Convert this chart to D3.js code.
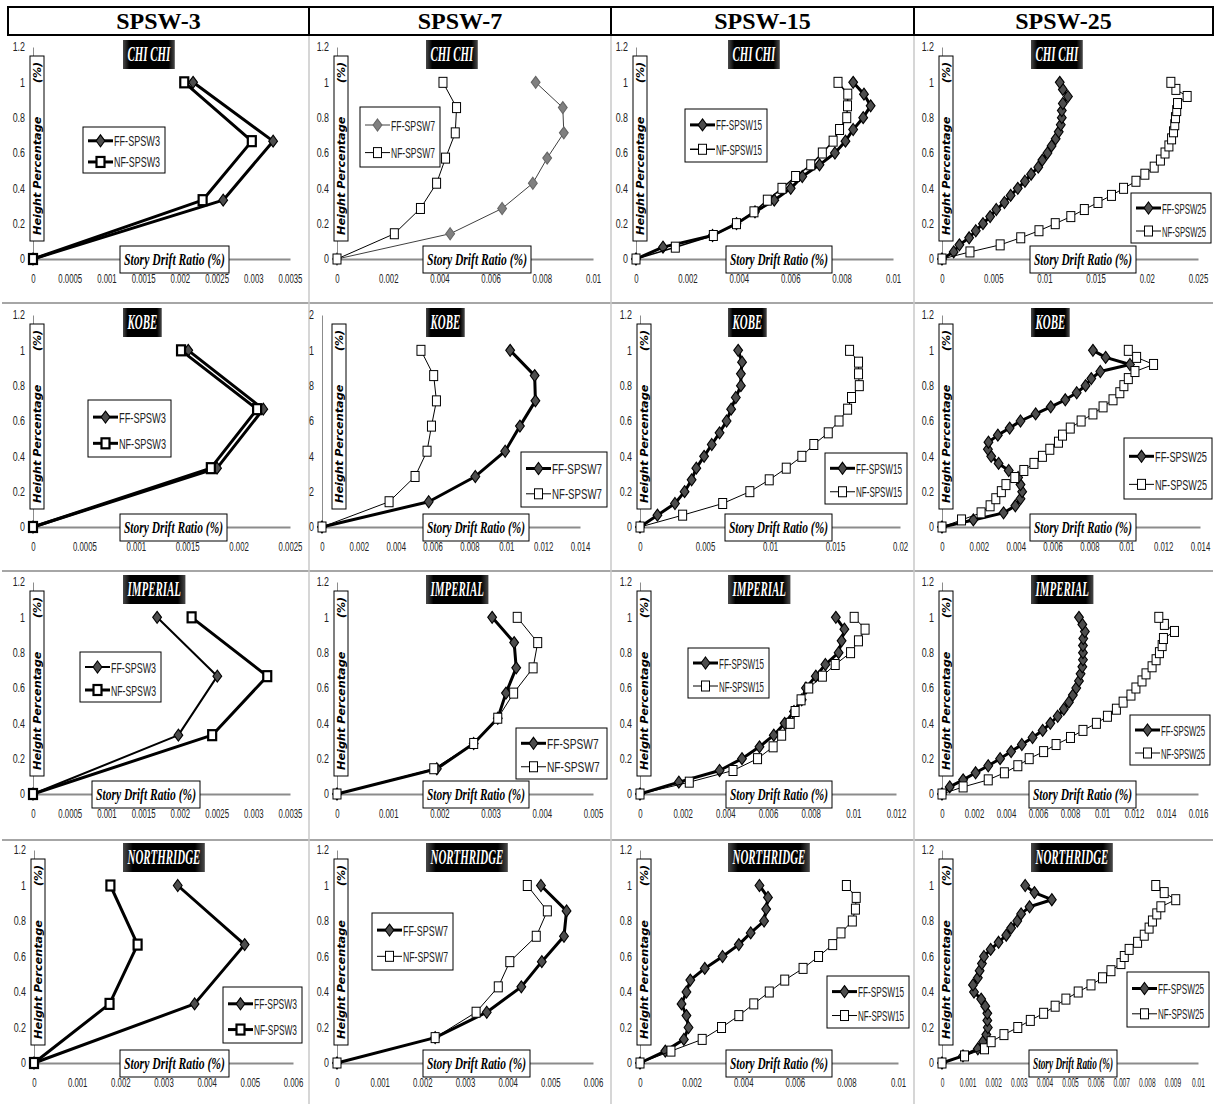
<!DOCTYPE html>
<html>
<head>
<meta charset="utf-8">
<script src="https://cdn.jsdelivr.net/npm/d3@7"></script>
<style>
  body { margin: 0; background: #fff; }
  svg { display: block; }
</style>
</head>
<body>
<div id="chart"></div>
<script>
// --- data -------------------------------------------------------------
const COLUMNS = ['SPSW-3', 'SPSW-7', 'SPSW-15', 'SPSW-25'];
const RECORDS = ['CHI CHI', 'KOBE', 'IMPERIAL', 'NORTHRIDGE'];
const STORIES = ['3', '7', '15', '25'];

const yTicks = [0, 0.2, 0.4, 0.6, 0.8, 1, 1.2];
const yLabels = ['0', '0.2', '0.4', '0.6', '0.8', '1', '1.2'];
const yLabelsCut = ['0', '2', '4', '6', '8', '1', '2'];

// height percentage of each floor level
const h3 = [0, 0.333, 0.667, 1];
const h7 = [0, 0.143, 0.286, 0.429, 0.571, 0.714, 0.857, 1];
const h15 = [0, 0.067, 0.133, 0.2, 0.267, 0.333, 0.4, 0.467, 0.533, 0.6, 0.667, 0.733, 0.8, 0.867, 0.933, 1];
const h25 = [0, 0.04, 0.08, 0.12, 0.16, 0.2, 0.24, 0.28, 0.32, 0.36, 0.4, 0.44, 0.48, 0.52, 0.56, 0.6, 0.64, 0.68, 0.72, 0.76, 0.8, 0.84, 0.88, 0.92, 0.96, 1];

// x tick values
const ticks0035 = [0, 0.0005, 0.001, 0.0015, 0.002, 0.0025, 0.003, 0.0035];
const ticks0025 = [0, 0.0005, 0.001, 0.0015, 0.002, 0.0025];
const ticks010 = [0, 0.002, 0.004, 0.006, 0.008, 0.01];
const ticks012 = [0, 0.002, 0.004, 0.006, 0.008, 0.01, 0.012];
const ticks014 = [0, 0.002, 0.004, 0.006, 0.008, 0.01, 0.012, 0.014];
const ticks016 = [0, 0.002, 0.004, 0.006, 0.008, 0.01, 0.012, 0.014, 0.016];
const ticks020 = [0, 0.005, 0.01, 0.015, 0.02];
const ticks025 = [0, 0.005, 0.01, 0.015, 0.02, 0.025];
const ticks005 = [0, 0.001, 0.002, 0.003, 0.004, 0.005];
const ticks006 = [0, 0.001, 0.002, 0.003, 0.004, 0.005, 0.006];
const ticks010b = [0, 0.001, 0.002, 0.003, 0.004, 0.005, 0.006, 0.007, 0.008, 0.009, 0.01];

// story drift ratios (%), bottom to top
const chichi3FF = [0, 0.00259, 0.00327, 0.00218];
const chichi3NF = [0, 0.00231, 0.00298, 0.00206];
const chichi7FF = [0, 0.00442, 0.00645, 0.00765, 0.00821, 0.00886, 0.00882, 0.00776];
const chichi7NF = [0, 0.00224, 0.00326, 0.00389, 0.00424, 0.00462, 0.00467, 0.00414];
const chichi15FF = [0, 0.00105, 0.00298, 0.00391, 0.00463, 0.00538, 0.00602, 0.00647, 0.00714, 0.00774, 0.00815, 0.00845, 0.00884, 0.00913, 0.00887, 0.00845];
const chichi15NF = [0, 0.00153, 0.00301, 0.00391, 0.00459, 0.00511, 0.00568, 0.00621, 0.0068, 0.00725, 0.00767, 0.00792, 0.0082, 0.00823, 0.00824, 0.00786];
const chichi25FF = [0, 0.00114, 0.0017, 0.00265, 0.0033, 0.004, 0.0047, 0.0053, 0.0061, 0.0067, 0.0074, 0.0081, 0.0087, 0.0094, 0.0098, 0.0103, 0.0107, 0.0111, 0.0114, 0.0116, 0.0117, 0.0117, 0.0118, 0.0123, 0.0118, 0.0115];
const chichi25NF = [0, 0.00273, 0.00568, 0.00769, 0.00947, 0.01106, 0.01258, 0.0139, 0.01523, 0.01655, 0.01773, 0.01894, 0.01981, 0.02072, 0.02133, 0.02178, 0.02216, 0.02242, 0.02261, 0.02273, 0.0228, 0.02292, 0.023, 0.02394, 0.02284, 0.02235];

const kobe3FF = [0, 0.00179, 0.00224, 0.00151];
const kobe3NF = [0, 0.00173, 0.00218, 0.00144];
const kobe7FF = [0, 0.00579, 0.00832, 0.00994, 0.01074, 0.01158, 0.01154, 0.01021];
const kobe7NF = [0, 0.00364, 0.00505, 0.0057, 0.00594, 0.00621, 0.00606, 0.00537];
const kobe15FF = [0, 0.00134, 0.00269, 0.00343, 0.00397, 0.00433, 0.00493, 0.00552, 0.00612, 0.00666, 0.00701, 0.00737, 0.00776, 0.00776, 0.00785, 0.00755];
const kobe15NF = [0, 0.00328, 0.00636, 0.00845, 0.00994, 0.01125, 0.01245, 0.01337, 0.01448, 0.01531, 0.01597, 0.01627, 0.01687, 0.01681, 0.01681, 0.01612];
const kobe25FF = [0, 0.0017, 0.00334, 0.00398, 0.00426, 0.00435, 0.00426, 0.00413, 0.00362, 0.00307, 0.00267, 0.00249, 0.00252, 0.00303, 0.00367, 0.00426, 0.00508, 0.0059, 0.00669, 0.00731, 0.00779, 0.0081, 0.00859, 0.0102, 0.00888, 0.00819];
const kobe25NF = [0, 0.00106, 0.00212, 0.00261, 0.00292, 0.00322, 0.00347, 0.00395, 0.00444, 0.00499, 0.00545, 0.00585, 0.00632, 0.00654, 0.00696, 0.00755, 0.00819, 0.00874, 0.00928, 0.00965, 0.00987, 0.01011, 0.01047, 0.01148, 0.01056, 0.01011];

const imperial3FF = [0, 0.00198, 0.00251, 0.00169];
const imperial3NF = [0, 0.00244, 0.00319, 0.00216];
const imperial7FF = [0, 0.00195, 0.00267, 0.00314, 0.0033, 0.0035, 0.00346, 0.00303];
const imperial7NF = [0, 0.00189, 0.00267, 0.00314, 0.00345, 0.00383, 0.00392, 0.00352];
const imperial15FF = [0, 0.00182, 0.00373, 0.00478, 0.0056, 0.00627, 0.00678, 0.00722, 0.00758, 0.00778, 0.00824, 0.00869, 0.00931, 0.00945, 0.00958, 0.00918];
const imperial15NF = [0, 0.00231, 0.00436, 0.00551, 0.00624, 0.00664, 0.00704, 0.00727, 0.00755, 0.00791, 0.00855, 0.00915, 0.00987, 0.01024, 0.01055, 0.01004];
const imperial25FF = [0, 0.00048, 0.00132, 0.0021, 0.00289, 0.00363, 0.00432, 0.00499, 0.00566, 0.00629, 0.00677, 0.00723, 0.00761, 0.00793, 0.00818, 0.00839, 0.00856, 0.00866, 0.00877, 0.00881, 0.00881, 0.00881, 0.00883, 0.00893, 0.00877, 0.00856];
const imperial25NF = [0, 0.00132, 0.00289, 0.0039, 0.00474, 0.00545, 0.00635, 0.00713, 0.00803, 0.00881, 0.00965, 0.01034, 0.0109, 0.01132, 0.01181, 0.01212, 0.0125, 0.01275, 0.01313, 0.01338, 0.01359, 0.01376, 0.01384, 0.01453, 0.0139, 0.01355];

const northridge3FF = [0, 0.00372, 0.00488, 0.00333];
const northridge3NF = [0, 0.00175, 0.0024, 0.00177];
const northridge7FF = [0, 0.0023, 0.00351, 0.00432, 0.0048, 0.00532, 0.00538, 0.00478];
const northridge7NF = [0, 0.0023, 0.00326, 0.00378, 0.00405, 0.00467, 0.00493, 0.00446];
const northridge15FF = [0, 0.00098, 0.0017, 0.00188, 0.0018, 0.00161, 0.0018, 0.00195, 0.00251, 0.0032, 0.00383, 0.00429, 0.00481, 0.00489, 0.00496, 0.00463];
const northridge15NF = [0, 0.0012, 0.00241, 0.00316, 0.00383, 0.00441, 0.00501, 0.00561, 0.00632, 0.00692, 0.00747, 0.00779, 0.00823, 0.00835, 0.00838, 0.008];
const northridge25FF = [0, 0.00082, 0.0014, 0.0016, 0.00173, 0.00179, 0.00177, 0.00177, 0.00169, 0.00153, 0.00125, 0.00121, 0.0014, 0.00147, 0.00156, 0.00164, 0.0019, 0.00221, 0.00251, 0.0027, 0.00294, 0.00309, 0.00342, 0.00429, 0.00361, 0.00325];
const northridge25NF = [0, 0.00088, 0.00166, 0.00192, 0.00242, 0.00296, 0.00345, 0.00397, 0.00442, 0.00484, 0.00532, 0.00582, 0.00627, 0.0066, 0.00699, 0.00712, 0.00731, 0.00764, 0.0079, 0.00809, 0.00822, 0.00839, 0.00855, 0.00913, 0.00868, 0.00835];

const heightsByCol = [h3, h7, h15, h25];
const seriesGrid = [
  [[chichi3FF, chichi3NF], [chichi7FF, chichi7NF], [chichi15FF, chichi15NF], [chichi25FF, chichi25NF]],
  [[kobe3FF, kobe3NF], [kobe7FF, kobe7NF], [kobe15FF, kobe15NF], [kobe25FF, kobe25NF]],
  [[imperial3FF, imperial3NF], [imperial7FF, imperial7NF], [imperial15FF, imperial15NF], [imperial25FF, imperial25NF]],
  [[northridge3FF, northridge3NF], [northridge7FF, northridge7NF], [northridge15FF, northridge15NF], [northridge25FF, northridge25NF]]
];
const ticksGrid = [
  [ticks0035, ticks010, ticks010, ticks025],
  [ticks0025, ticks014, ticks020, ticks014],
  [ticks0035, ticks005, ticks012, ticks016],
  [ticks006, ticks006, ticks010, ticks010b]
];

// --- layout -----------------------------------------------------------
const W = 1215, H = 1104;
const COL_EDGES = [8, 309, 611, 914, 1213];
const ROW_LINES = [303, 571, 840];
const ROW_Y = [[47, 259], [315, 527], [582, 794], [850, 1063]]; // [y of 1.2, y of 0]
const PLOT_X = [
  [[33, 290], [337, 593], [636, 893], [942, 1198]],
  [[33, 290], [322, 580], [640, 900], [942, 1200]],
  [[33, 290], [337, 593], [640, 896], [942, 1198]],
  [[34, 293], [337, 593], [640, 898], [942, 1198]]
];
const LEGEND_BOX = [
  [[83, 127, 82, 46], [360, 107, 80, 60], [685, 109, 82, 53], [1131, 193, 80, 50]],
  [[88, 400, 83, 57], [521, 452, 86, 55], [825, 453, 82, 51], [1124, 438, 88, 61]],
  [[80, 652, 81, 50], [516, 728, 91, 51], [688, 648, 81, 50], [1130, 715, 80, 50]],
  [[223, 987, 79, 56], [372, 913, 81, 57], [827, 976, 82, 52], [1127, 972, 82, 55]]
];
const XTITLE_BOX = [ // left, width
  [[120, 109], [423, 108], [726, 106], [1030, 106]],
  [[120, 107], [423, 106], [725, 107], [1030, 106]],
  [[92, 108], [423, 106], [726, 106], [1029, 107]],
  [[120, 109], [423, 107], [726, 106], [1029, 88]]
];
const TITLE_LEFT = [123, 426, 728, 1031];
// line widths [FF, NF]
const LINE_W = [
  [[3, 3], [1, 1], [3, 1.5], [3, 1]],
  [[3, 3], [3, 1], [3, 1], [3, 1]],
  [[2, 3], [3, 1], [3, 1], [3, 1]],
  [[3, 3], [3, 1], [3, 1], [3, 1]]
];

const SANS = '"Liberation Sans", Arial, sans-serif';
const SERIF = '"Liberation Serif", "Times New Roman", serif';

const svg = d3.select('#chart').append('svg')
  .attr('width', W)
  .attr('height', H)
  .style('background', '#fff');

const defs = svg.append('defs');
const grad = defs.append('linearGradient').attr('id', 'titleGrad');
grad.append('stop').attr('offset', '0%').attr('stop-color', '#4a4a4a');
grad.append('stop').attr('offset', '12%').attr('stop-color', '#000');
grad.append('stop').attr('offset', '88%').attr('stop-color', '#000');
grad.append('stop').attr('offset', '100%').attr('stop-color', '#4a4a4a');

// squeeze a text element horizontally to look like a narrow font
function squeeze(sel, k) {
  sel.each(function () {
    const len = this.getComputedTextLength();
    d3.select(this).attr('textLength', len * k).attr('lengthAdjust', 'spacingAndGlyphs');
  });
}

// frame lines
ROW_LINES.forEach(yy => {
  svg.append('line')
    .attr('x1', 2).attr('x2', W - 2).attr('y1', yy).attr('y2', yy)
    .attr('stroke', '#a6a6a6').attr('stroke-width', 2);
});
COL_EDGES.slice(1, 4).forEach(xx => {
  svg.append('line')
    .attr('x1', xx).attr('x2', xx).attr('y1', 36).attr('y2', H)
    .attr('stroke', '#c8c8c8').attr('stroke-width', 1.5);
});

// header table
svg.append('rect')
  .attr('x', COL_EDGES[0]).attr('y', 7)
  .attr('width', COL_EDGES[4] - COL_EDGES[0]).attr('height', 28)
  .attr('fill', 'none').attr('stroke', '#000').attr('stroke-width', 2);
COLUMNS.forEach((name, c) => {
  if (c > 0) {
    svg.append('line')
      .attr('x1', COL_EDGES[c]).attr('x2', COL_EDGES[c]).attr('y1', 7).attr('y2', 35)
      .attr('stroke', '#000').attr('stroke-width', 2);
  }
  svg.append('text')
    .attr('x', (COL_EDGES[c] + COL_EDGES[c + 1]) / 2)
    .attr('y', 29)
    .attr('text-anchor', 'middle')
    .style('font-family', SERIF)
    .style('font-weight', 'bold')
    .style('font-size', '24px')
    .text(name);
});

function diamond(g, cx, cy, fill, stroke) {
  g.append('path')
    .attr('d', `M${cx},${cy - 6}L${cx + 4.4},${cy}L${cx},${cy + 6}L${cx - 4.4},${cy}Z`)
    .attr('fill', fill).attr('stroke', stroke).attr('stroke-width', 1.1);
}

function square(g, cx, cy, sw) {
  g.append('rect')
    .attr('x', cx - 4).attr('y', cy - 5).attr('width', 8).attr('height', 10)
    .attr('fill', '#fff').attr('stroke', '#000').attr('stroke-width', sw);
}

function drawPanel(r, c) {
  const [yTop, yAxis] = ROW_Y[r];
  const [x0, x1] = PLOT_X[r][c];
  const xTicks = ticksGrid[r][c];
  const heights = heightsByCol[c];
  const [ff, nf] = seriesGrid[r][c];
  const [ffW, nfW] = LINE_W[r][c];
  const light = ffW < 2;
  const g = svg.append('g');

  const x = d3.scaleLinear().domain([0, xTicks[xTicks.length - 1]]).range([x0, x1]);
  const y = d3.scaleLinear().domain([0, 1.2]).range([yAxis, yTop]);

  const labels = (r === 1 && c === 1) ? yLabelsCut : yLabels;

  const ya = g.append('g')
    .attr('transform', `translate(${x0},0)`)
    .call(d3.axisLeft(y).tickValues(yTicks).tickFormat((d, i) => labels[i]).tickSize(0).tickSizeOuter(0).tickPadding(8));
  ya.select('.domain').attr('stroke', '#8c8c8c').attr('stroke-width', 1);
  ya.selectAll('text').style('font-family', SANS).style('font-size', '12px').attr('fill', '#222')
    .call(squeeze, 0.74);

  const xa = g.append('g')
    .attr('transform', `translate(0,${yAxis})`)
    .call(d3.axisBottom(x).tickValues(xTicks).tickFormat(d => String(d)).tickSize(0).tickSizeOuter(0).tickPadding(15));
  xa.select('.domain').attr('stroke', '#8c8c8c').attr('stroke-width', 2);
  xa.selectAll('text').style('font-family', SANS).style('font-size', '12px').attr('fill', '#222')
    .call(squeeze, c === 3 && r === 3 ? 0.55 : 0.65);

  // Height Percentage label box
  const hbX = (r === 1 && c === 1) ? x0 + 10 : x0 - 3;
  const hbW = 14;
  const hbTop = yTop + 9, hbBot = yAxis - 18;
  g.append('rect')
    .attr('x', hbX).attr('y', hbTop).attr('width', hbW).attr('height', hbBot - hbTop)
    .attr('fill', '#fff').attr('stroke', '#000').attr('stroke-width', 1);
  const hbLen = hbBot - hbTop;
  g.append('text')
    .attr('transform', `translate(${hbX + 11},${hbBot - 6}) rotate(-90)`)
    .style('font-family', '"DejaVu Sans", Verdana, sans-serif')
    .style('font-weight', 'bold').style('font-style', 'italic').style('font-size', '11px')
    .attr('textLength', hbLen * 0.64).attr('lengthAdjust', 'spacingAndGlyphs')
    .text('Height  Percentage');
  g.append('text')
    .attr('transform', `translate(${hbX + 11},${hbTop + 6}) rotate(-90)`)
    .attr('text-anchor', 'end')
    .style('font-family', '"DejaVu Sans", Verdana, sans-serif')
    .style('font-weight', 'bold').style('font-style', 'italic').style('font-size', '11px')
    .text('(%)');

  // series
  const line = d3.line().x(d => x(d[0])).y(d => y(d[1]));
  const ffPts = ff.map((v, i) => [v, heights[i]]);
  const nfPts = nf.map((v, i) => [v, heights[i]]);

  g.append('path').datum(ffPts)
    .attr('d', line).attr('fill', 'none')
    .attr('stroke', light ? '#404040' : '#000').attr('stroke-width', ffW)
    .attr('stroke-linejoin', 'round');
  ffPts.forEach(p => diamond(g, x(p[0]), y(p[1]), light ? '#808080' : '#4d4d4d', light ? '#666' : '#000'));

  g.append('path').datum(nfPts)
    .attr('d', line).attr('fill', 'none')
    .attr('stroke', '#000').attr('stroke-width', nfW)
    .attr('stroke-linejoin', 'round');
  nfPts.forEach(p => square(g, x(p[0]), y(p[1]), nfW >= 2 ? 2.2 : 1));

  // x title box
  const [xtL, xtW] = XTITLE_BOX[r][c];
  g.append('rect')
    .attr('x', xtL).attr('y', yAxis - 13).attr('width', xtW).attr('height', 27)
    .attr('fill', '#fff').attr('stroke', '#000').attr('stroke-width', 1);
  g.append('text')
    .attr('x', xtL + 4).attr('y', yAxis + 6)
    .style('font-family', SERIF)
    .style('font-weight', 'bold').style('font-style', 'italic').style('font-size', '17px')
    .attr('textLength', xtW - 8).attr('lengthAdjust', 'spacingAndGlyphs')
    .text('Story Drift Ratio (%)');

  // record title
  const tl = TITLE_LEFT[c];
  const tbox = g.append('rect')
    .attr('x', tl).attr('y', yTop - 7).attr('height', 29)
    .attr('fill', 'url(#titleGrad)');
  const tt = g.append('text')
    .attr('x', tl + 4.5)
    .attr('y', yTop + 14)
    .attr('fill', '#fff')
    .style('font-family', SERIF)
    .style('font-weight', 'bold').style('font-style', 'italic').style('font-size', '21px')
    .text(RECORDS[r]);
  const tw = tt.node().getComputedTextLength() * 0.52;
  tt.attr('textLength', tw).attr('lengthAdjust', 'spacingAndGlyphs');
  tbox.attr('width', tw + 9);

  // legend
  const [lx, ly, lw, lh] = LEGEND_BOX[r][c];
  const lg = g.append('g');
  lg.append('rect')
    .attr('x', lx).attr('y', ly).attr('width', lw).attr('height', lh)
    .attr('fill', '#fff').attr('stroke', '#000').attr('stroke-width', 1);
  const entries = [
    { name: `FF-SPSW${STORIES[c]}`, type: 'ff', w: ffW, cy: ly + lh * 0.3 },
    { name: `NF-SPSW${STORIES[c]}`, type: 'nf', w: nfW, cy: ly + lh * 0.76 }
  ];
  entries.forEach(e => {
    lg.append('line')
      .attr('x1', lx + 5).attr('x2', lx + 30).attr('y1', e.cy).attr('y2', e.cy)
      .attr('stroke', e.type === 'ff' && light ? '#404040' : '#000').attr('stroke-width', e.w);
    if (e.type === 'ff') diamond(lg, lx + 17.5, e.cy, light ? '#808080' : '#4d4d4d', light ? '#666' : '#000');
    else square(lg, lx + 17.5, e.cy, e.w >= 2 ? 2.2 : 1);
    const t = lg.append('text')
      .attr('x', lx + 31).attr('y', e.cy + 5.5)
      .style('font-family', SANS).style('font-size', '15px')
      .attr('fill', '#222')
      .text(e.name);
    const avail = lw - 36;
    const len = t.node().getComputedTextLength();
    t.attr('textLength', Math.min(len * 0.68, avail)).attr('lengthAdjust', 'spacingAndGlyphs');
  });
}

for (let r = 0; r < 4; r++) {
  for (let c = 0; c < 4; c++) {
    drawPanel(r, c);
  }
}
</script>
</body>
</html>
